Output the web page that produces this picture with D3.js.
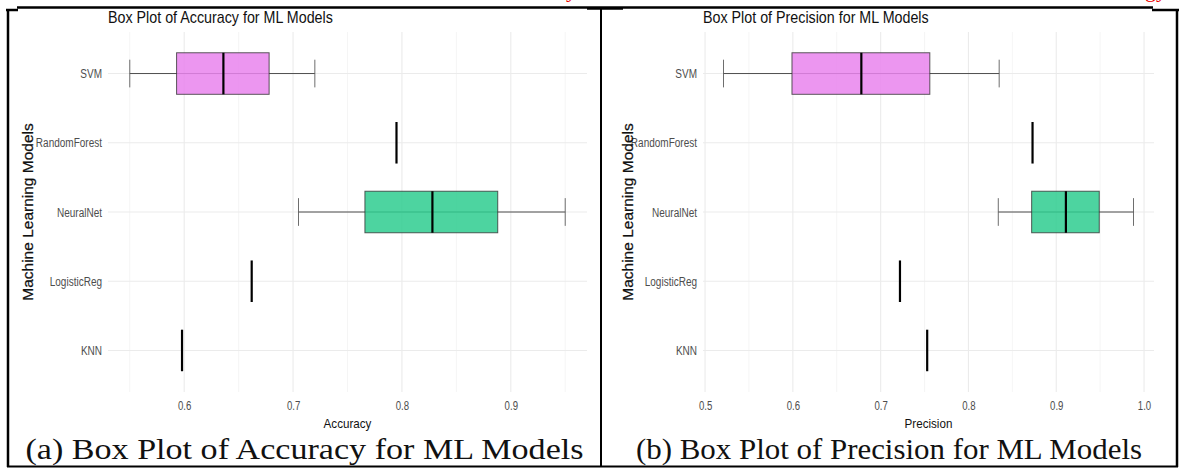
<!DOCTYPE html>
<html>
<head>
<meta charset="utf-8">
<script src="https://cdn.jsdelivr.net/npm/d3@7"></script>
<style>
  html, body { margin: 0; padding: 0; background: #fff; }
  svg { display: block; }
</style>
</head>
<body>
<svg id="chart" width="1181" height="468"></svg>
<script>
// ---------- DATA ----------
const models = ["SVM", "RandomForest", "NeuralNet", "LogisticReg", "KNN"];
const modelFill = ["#e984ed", "#e984ed", "#2ecc8f", "#2ecc8f", "#2ecc8f"];

// Accuracy five-number summaries (per model)
const accMin = [0.550, 0.795, 0.705, 0.662, 0.598];
const accQ1  = [0.593, 0.795, 0.766, 0.662, 0.598];
const accMed = [0.636, 0.795, 0.828, 0.662, 0.598];
const accQ3  = [0.678, 0.795, 0.888, 0.662, 0.598];
const accMax = [0.720, 0.795, 0.950, 0.662, 0.598];
const accTicks = [0.6, 0.7, 0.8, 0.9];

// Precision five-number summaries (per model)
const precMin = [0.521, 0.873, 0.834, 0.722, 0.753];
const precQ1  = [0.599, 0.873, 0.872, 0.722, 0.753];
const precMed = [0.678, 0.873, 0.911, 0.722, 0.753];
const precQ3  = [0.756, 0.873, 0.949, 0.722, 0.753];
const precMax = [0.835, 0.873, 0.988, 0.722, 0.753];
const precTicks = [0.5, 0.6, 0.7, 0.8, 0.9, 1.0];

const panels = [
  { title: "Box Plot of Accuracy for ML Models", xLabel: "Accuracy",
    caption: "(a) Box Plot of Accuracy for ML Models", capWidth: 558,
    min: accMin, q1: accQ1, med: accMed, q3: accQ3, max: accMax, ticks: accTicks,
    x0: 108, x1: 587, yAxisX: 32.5, cellL: 8, cellR: 601 },
  { title: "Box Plot of Precision for ML Models", xLabel: "Precision",
    caption: "(b) Box Plot of Precision for ML Models", capWidth: 506,
    min: precMin, q1: precQ1, med: precMed, q3: precQ3, max: precMax, ticks: precTicks,
    x0: 703, x1: 1154, yAxisX: 632.5, cellL: 601, cellR: 1177 }
];

// ---------- DRAW ----------
const svg = d3.select("#chart");
const sans = "'Liberation Sans', Arial, sans-serif";
const serif = "'Liberation Serif', 'Times New Roman', serif";
const plotTop = 32, plotBottom = 392;

// horizontally condense text (the reference uses a narrow face)
function condense(sel, factor) {
  sel.each(function () {
    const len = this.getComputedTextLength();
    d3.select(this).attr("textLength", len * factor).attr("lengthAdjust", "spacingAndGlyphs");
  });
}

panels.forEach(p => {
  const g = svg.append("g");
  const lo = d3.min(p.min), hi = d3.max(p.max), w = hi - lo;
  const x = d3.scaleLinear().domain([lo - 0.05 * w, hi + 0.05 * w]).range([p.x0, p.x1]);
  const y = d3.scalePoint().domain(models).range([plotTop, plotBottom]).padding(0.6);
  const step = y.step();

  // minor gridlines
  const minor = p.ticks.map(t => t - 0.05).concat([p.ticks[p.ticks.length - 1] + 0.05])
    .filter(t => t >= x.domain()[0] && t <= x.domain()[1]);
  g.selectAll(".minor").data(minor).enter().append("line")
    .attr("x1", d => x(d)).attr("x2", d => x(d))
    .attr("y1", plotTop).attr("y2", plotBottom)
    .attr("stroke", "#f2f2f2").attr("stroke-width", 0.8);
  // major x gridlines
  g.selectAll(".majx").data(p.ticks).enter().append("line")
    .attr("x1", d => x(d)).attr("x2", d => x(d))
    .attr("y1", plotTop).attr("y2", plotBottom)
    .attr("stroke", "#ebebeb").attr("stroke-width", 1.1);
  // major y gridlines
  g.selectAll(".majy").data(models).enter().append("line")
    .attr("x1", p.x0).attr("x2", p.x1)
    .attr("y1", d => y(d)).attr("y2", d => y(d))
    .attr("stroke", "#ebebeb").attr("stroke-width", 1.1);

  // x axis (labels only)
  const xAxis = d3.axisBottom(x).tickValues(p.ticks).tickFormat(d3.format(".1f")).tickSize(0).tickPadding(0);
  const xa = g.append("g").attr("transform", `translate(0,${plotBottom + 9})`).call(xAxis);
  xa.select(".domain").remove();
  xa.selectAll("text").attr("font-family", sans).attr("font-size", 12).attr("fill", "#4d4d4d")
    .call(condense, 0.8);

  // y axis (labels only)
  const yAxis = d3.axisLeft(y).tickSize(0).tickPadding(0);
  const ya = g.append("g").attr("transform", `translate(${p.x0 - 6},0)`).call(yAxis);
  ya.select(".domain").remove();
  ya.selectAll("text").attr("font-family", sans).attr("font-size", 12.5).attr("fill", "#4d4d4d")
    .call(condense, 0.8);

  // boxes
  models.forEach((m, i) => {
    const cy = y(m);
    const bh = step * 0.6, ch = step * 0.4;
    const single = p.min[i] === p.max[i];
    if (!single) {
      g.append("line").attr("x1", x(p.min[i])).attr("x2", x(p.max[i]))
        .attr("y1", cy).attr("y2", cy).attr("stroke", "#333").attr("stroke-width", 1).attr("stroke-opacity", 0.85);
      [p.min[i], p.max[i]].forEach(v => {
        g.append("line").attr("x1", x(v)).attr("x2", x(v))
          .attr("y1", cy - ch / 2).attr("y2", cy + ch / 2)
          .attr("stroke", "#555").attr("stroke-width", 1).attr("stroke-opacity", 0.85);
      });
      g.append("rect").attr("x", x(p.q1[i])).attr("y", cy - bh / 2)
        .attr("width", x(p.q3[i]) - x(p.q1[i])).attr("height", bh)
        .attr("fill", modelFill[i]).attr("fill-opacity", 0.85)
        .attr("stroke", "#333").attr("stroke-opacity", 0.8).attr("stroke-width", 1);
    }
    g.append("line").attr("x1", x(p.med[i])).attr("x2", x(p.med[i]))
      .attr("y1", cy - bh / 2).attr("y2", cy + bh / 2)
      .attr("stroke", "#000").attr("stroke-width", 2.2);
  });

  // title
  g.append("text").attr("x", p.x0).attr("y", 23).text(p.title)
    .attr("font-family", sans).attr("font-size", 17).attr("fill", "#111")
    .call(condense, 0.84);
  // x label
  g.append("text").attr("x", (p.x0 + p.x1) / 2).attr("y", 428).attr("text-anchor", "middle")
    .text(p.xLabel).attr("font-family", sans).attr("font-size", 13.5).attr("fill", "#111")
    .call(condense, 0.86);
  // y label
  g.append("text").attr("transform", `translate(${p.yAxisX},${(plotTop + plotBottom) / 2}) rotate(-90)`)
    .attr("text-anchor", "middle").text("Machine Learning Models")
    .attr("font-family", sans).attr("font-size", 15.5).attr("fill", "#111")
    .attr("stroke", "#111").attr("stroke-width", 0.25);
  // caption
  g.append("text").attr("x", (p.cellL + p.cellR) / 2).attr("y", 459).attr("text-anchor", "middle")
    .text(p.caption).attr("font-family", serif).attr("font-size", 28.5).attr("fill", "#111")
    .attr("textLength", p.capWidth).attr("lengthAdjust", "spacingAndGlyphs");
});

// ---------- FRAME ----------
const frame = svg.append("g").attr("stroke", "#000").attr("fill", "none");
frame.append("line").attr("x1", 17).attr("x2", 1153).attr("y1", 7.5).attr("y2", 7.5).attr("stroke-width", 2.5);
frame.append("line").attr("x1", 6).attr("x2", 18).attr("y1", 10).attr("y2", 10).attr("stroke-width", 2.5);
frame.append("line").attr("x1", 1152).attr("x2", 1179).attr("y1", 10).attr("y2", 10).attr("stroke-width", 2.5);
frame.append("line").attr("x1", 587).attr("x2", 623).attr("y1", 8.5).attr("y2", 8.5).attr("stroke-width", 2.5);
frame.append("line").attr("x1", 8).attr("x2", 8).attr("y1", 9).attr("y2", 467).attr("stroke-width", 2.5);
frame.append("line").attr("x1", 601).attr("x2", 601).attr("y1", 7).attr("y2", 467).attr("stroke-width", 2);
frame.append("line").attr("x1", 1177).attr("x2", 1177).attr("y1", 9).attr("y2", 467).attr("stroke-width", 2.5);
frame.append("line").attr("x1", 7).attr("x2", 1178).attr("y1", 466.5).attr("y2", 466.5).attr("stroke-width", 2);

// cut-off red text fragments above the frame (as in the reference)
svg.append("text").attr("x", 566).attr("y", -3).text("y")
  .attr("font-family", serif).attr("font-size", 22).attr("fill", "#e00");
svg.append("text").attr("x", 1145).attr("y", -3).text("gy")
  .attr("font-family", serif).attr("font-size", 22).attr("fill", "#e00");
</script>
</body>
</html>
